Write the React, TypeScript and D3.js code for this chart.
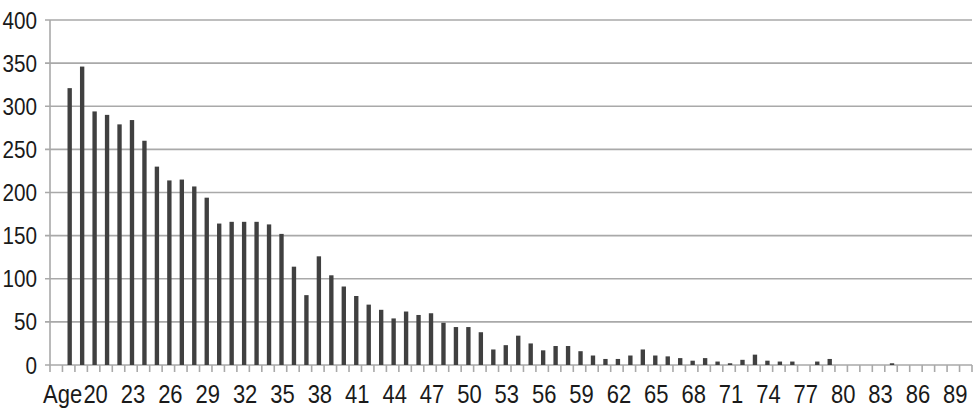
import React from 'react';
import * as d3 from 'd3';

// categories: header cell "Age" first, then ages 18..90
const categories = [
  'Age', '18', '19', '20', '21', '22', '23', '24', '25', '26', '27', '28', '29',
  '30', '31', '32', '33', '34', '35', '36', '37', '38', '39', '40', '41', '42',
  '43', '44', '45', '46', '47', '48', '49', '50', '51', '52', '53', '54', '55',
  '56', '57', '58', '59', '60', '61', '62', '63', '64', '65', '66', '67', '68',
  '69', '70', '71', '72', '73', '74', '75', '76', '77', '78', '79', '80', '81',
  '82', '83', '84', '85', '86', '87', '88', '89', '90',
];

const counts = [
  0, 321, 346, 294, 290, 279, 284, 260, 230, 214, 215, 207, 194,
  164, 166, 166, 166, 163, 152, 114, 81, 126, 104, 91, 80, 70,
  64, 54, 62, 58, 60, 49, 44, 44, 38, 18, 23, 34, 25,
  17, 22, 22, 16, 11, 7, 7, 11, 18, 11, 10, 8, 5,
  8, 4, 2, 6, 12, 5, 4, 4, 0, 4, 7, 0, 0,
  0, 0, 2, 0, 0, 0, 0, 0, 0,
];

const xTickLabels = [
  'Age', '20', '23', '26', '29', '32', '35', '38', '41', '44', '47', '50', '53',
  '56', '59', '62', '65', '68', '71', '74', '77', '80', '83', '86', '89',
];

const yTicks = [0, 50, 100, 150, 200, 250, 300, 350, 400];

const W = 975;
const H = 412;
const left = 50;
const right = 972;
const top = 20;
const bottom = 365;

const FONT = "'Liberation Sans', Arial, sans-serif";
const GRID = '#a9a9a9';

export default function App() {
  const x = d3.scaleBand<string>()
    .domain(categories)
    .range([left, right])
    .paddingInner(0.65)
    .paddingOuter(0.325);

  const y = d3.scaleLinear().domain([0, 400]).range([bottom, top]);

  const step = x.step();
  // category boundaries (Excel puts the ticks between categories)
  const boundaries = d3.range(categories.length + 1).map(k => left + k * step);

  return (
    <div style={{ position: 'absolute', left: 0, top: 0 }}>
      <svg width={W} height={H} style={{ display: 'block', background: '#fff' }}>
        {/* gridlines */}
        {yTicks.map(t => (
          <line key={t} x1={left - 5} x2={right} y1={y(t)} y2={y(t)}
            stroke={GRID} strokeWidth={1.6} />
        ))}
        {/* value axis line */}
        <line x1={left} x2={left} y1={top} y2={bottom} stroke={GRID} strokeWidth={1.6} />
        {/* category ticks */}
        {boundaries.map((bx, k) => (
          <line key={k} x1={bx} x2={bx} y1={bottom} y2={bottom + 7}
            stroke={GRID} strokeWidth={1.6} />
        ))}
        {/* bars */}
        {categories.map((c, i) => (
          counts[i] > 0 ? (
            <rect key={c} x={(x(c) ?? 0) + 1} y={y(counts[i])} width={x.bandwidth()}
              height={y(0) - y(counts[i])} fill="#404040" />
          ) : null
        ))}
        {/* y labels, squeezed a little to look condensed */}
        {yTicks.map(t => (
          <text key={t} transform={`translate(37,${y(t) + 8.5}) scale(0.9,1)`} textAnchor="end"
            fontFamily={FONT} fontSize={23} fill="#1a1a1a">{t}</text>
        ))}
        {/* x labels */}
        {xTickLabels.map((lab, j) => {
          const cx = (x(lab) ?? 0) + x.bandwidth() / 2 + 2;
          const first = j === 0;
          return (
            <text key={lab} transform={`translate(${first ? 43 : cx},403) scale(0.88,1)`}
              textAnchor={first ? 'start' : 'middle'}
              fontFamily={FONT} fontSize={25} fill="#1a1a1a">{lab}</text>
          );
        })}
      </svg>
    </div>
  );
}
